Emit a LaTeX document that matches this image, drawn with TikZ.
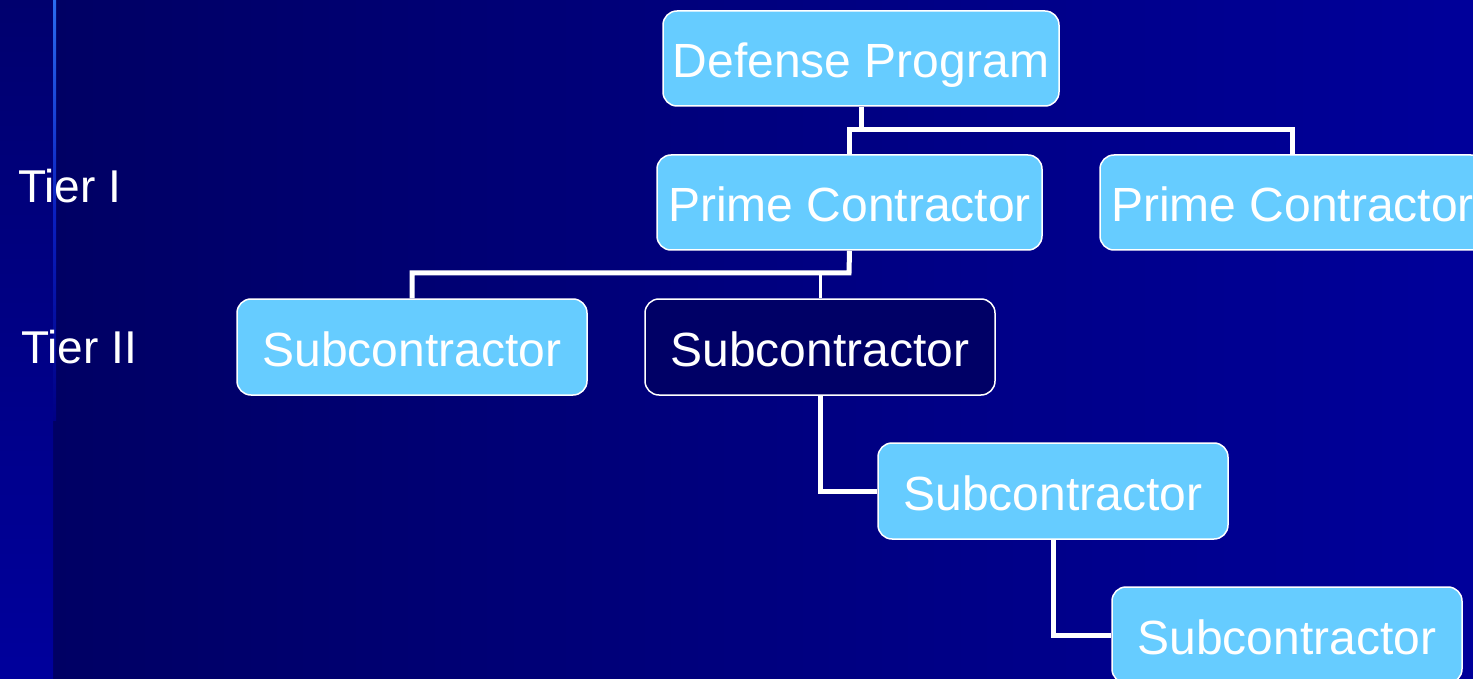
\documentclass[tikz,border=0pt]{standalone}
\usepackage{fontspec}
\setmainfont{Liberation Sans}
\usetikzlibrary{calc}
\definecolor{navyL}{HTML}{000064}
\definecolor{navyR}{HTML}{00009A}
\definecolor{stripTop}{HTML}{00006E}
\definecolor{stripBot}{HTML}{00009C}
\definecolor{edgeTop}{HTML}{2A6CF0}
\definecolor{edgeMid}{HTML}{0A20C0}
\definecolor{boxfill}{HTML}{66CCFF}
\definecolor{darkbox}{HTML}{000066}
\begin{document}
\begin{tikzpicture}[x=1pt,y=-1pt,
  orgbox/.style={draw=white, line width=1.5pt, fill=boxfill, rounded corners=14pt,
    text=white, inner sep=0pt, font=\fontsize{48}{56}\selectfont,
    text height=39pt, text depth=0pt, anchor=center},
  darkorg/.style={orgbox, fill=darkbox},
  conn/.style={draw=white, line width=5pt, line join=miter},
  thinconn/.style={draw=white, line width=3pt},
  tier/.style={text=white, inner sep=0pt, anchor=base west, font=\fontsize{46}{54}\selectfont}]
  \useasboundingbox (0,0) rectangle (1473,679);
  % background
  \shade[left color=navyL, right color=navyR] (53,0) rectangle (1473,679);
  \shade[top color=stripTop, bottom color=stripBot] (0,0) rectangle (53,679);
  \shade[top color=edgeTop, bottom color=stripTop!50!stripBot, middle color=edgeMid] (53,0) rectangle (56,420);

  % tier labels
  \node[tier] (t1) at (18,203) {Tier I};
  \node[tier] (t2) at (21,363) {Tier II};

  % boxes
  \node[orgbox, minimum width=396pt, minimum height=95pt] (dp) at (861,58.5) {Defense Program};
  \node[orgbox, minimum width=385pt, minimum height=95pt] (p1) at (849.5,202.5) {Prime Contractor};
  \node[orgbox, minimum width=385pt, minimum height=95pt] (p2) at (1292.5,202.5) {Prime Contractor};
  \node[orgbox, minimum width=350pt, minimum height=96pt] (s1) at (412,347) {Subcontractor};
  \node[darkorg, minimum width=350pt, minimum height=96pt] (s2) at (820,347) {Subcontractor};
  \node[orgbox, minimum width=350pt, minimum height=96pt] (s3) at (1053,491) {Subcontractor};
  \node[orgbox, minimum width=350pt, minimum height=96pt] (s4) at (1287,635) {Subcontractor};

  % connectors
  \coordinate (j1) at (dp.south |- 0,130);
  \draw[conn] (dp.south) -- (j1);
  \draw[conn] (p1.north) |- (j1) -| (p2.north);
  \coordinate (j2) at (849,273);
  \draw[conn] (p1.south) -- (j2) -| (s1.north);
  \draw[thinconn] (s2.north) -- (s2.north |- 0,275);
  \draw[conn] (s2.south) |- (s3.west);
  \draw[conn] (s3.south) |- (s4.west);
\end{tikzpicture}
\end{document}
